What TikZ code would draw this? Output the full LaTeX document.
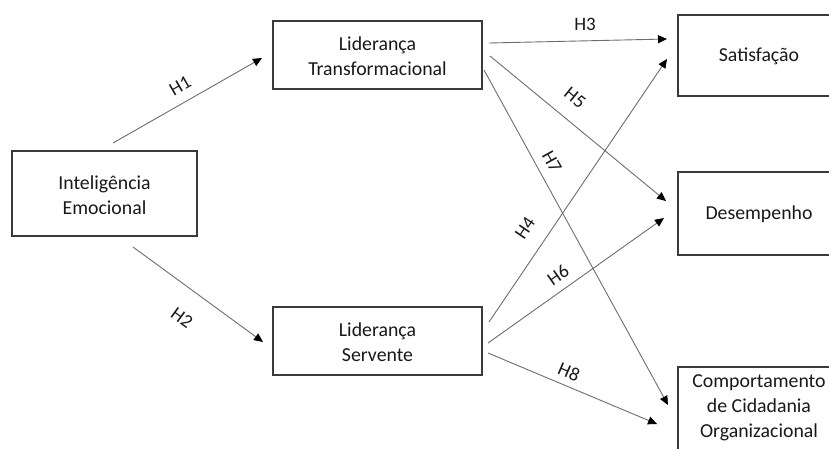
\documentclass[tikz,border=0pt]{standalone}
\usepackage{fontspec}
\setmainfont{Carlito}
\usetikzlibrary{arrows.meta}
\definecolor{boxline}{HTML}{3A3A3A}
\definecolor{arrline}{HTML}{6E6E6E}
\tikzset{
  varbox/.style={draw=boxline, line width=1.3pt, fill=white, inner sep=0pt},
  vartext/.style={font=\fontsize{19.8}{25}\selectfont, align=center, text=black!90},
  hyp/.style={draw=arrline, line width=0.9pt, -{Triangle[length=9pt,width=8pt,fill=black,color=black]}},
  hlabel/.style={font=\fontsize{19}{20}\selectfont, text=black!90, inner sep=0pt}
}
\begin{document}
\begin{tikzpicture}[x=1pt,y=-1pt]
\clip (0,0) rectangle (829,448);
\fill[white] (0,0) rectangle (829,448);
% boxes
\draw[varbox] (12,151) rectangle (197,236);
\draw[varbox] (273,21) rectangle (482,89);
\draw[varbox] (273,307) rectangle (482,375);
\draw[varbox] (678,15) rectangle (845,96);
\draw[varbox] (678,172) rectangle (845,255);
\draw[varbox] (678,367) rectangle (845,470);
% texts
\node[vartext] (ie) at (104.5,195) {Inteligência\\Emocional};
\node[vartext] (lt) at (377.5,56) {Liderança\\Transformacional};
\node[vartext] (ls) at (377.5,342) {Liderança\\Servente};
\node[vartext] (sat) at (759,56) {Satisfação};
\node[vartext] (des) at (759,214) {Desempenho};
\node[vartext] (coc) at (759,408) {Comportamento\\de Cidadania\\Organizacional};
% connector end points
\coordinate (h1s) at (113,143);  \coordinate (h1e) at (262,58);
\coordinate (h2s) at (133,247);  \coordinate (h2e) at (263,342);
\coordinate (h3s) at (489,43);   \coordinate (h3e) at (667,39);
\coordinate (h5s) at (490,56);   \coordinate (h5e) at (666,201);
\coordinate (h7s) at (484,70);   \coordinate (h7e) at (668,405);
\coordinate (h4s) at (489,322);  \coordinate (h4e) at (667,59);
\coordinate (h6s) at (488,343);  \coordinate (h6e) at (664,218);
\coordinate (h8s) at (488,353);  \coordinate (h8e) at (657,424);
% connectors
\draw[hyp] (h1s) -- (h1e);
\draw[hyp] (h2s) -- (h2e);
\draw[hyp] (h3s) -- (h3e);
\draw[hyp] (h5s) -- (h5e);
\draw[hyp] (h7s) -- (h7e);
\draw[hyp] (h4s) -- (h4e);
\draw[hyp] (h6s) -- (h6e);
\draw[hyp] (h8s) -- (h8e);
% labels
\node[hlabel, rotate=30] (l1) at (180,86) {H1};
\node[hlabel, rotate=-36] (l2) at (182,318) {H2};
\node[hlabel] (l3) at (585,24) {H3};
\node[hlabel, rotate=-39] (l5) at (575,98) {H5};
\node[hlabel, rotate=-61] (l7) at (552,162) {H7};
\node[hlabel, rotate=56] (l4) at (525,228) {H4};
\node[hlabel, rotate=35] (l6) at (558,275) {H6};
\node[hlabel, rotate=-23] (l8) at (569,372) {H8};
\end{tikzpicture}
\end{document}
